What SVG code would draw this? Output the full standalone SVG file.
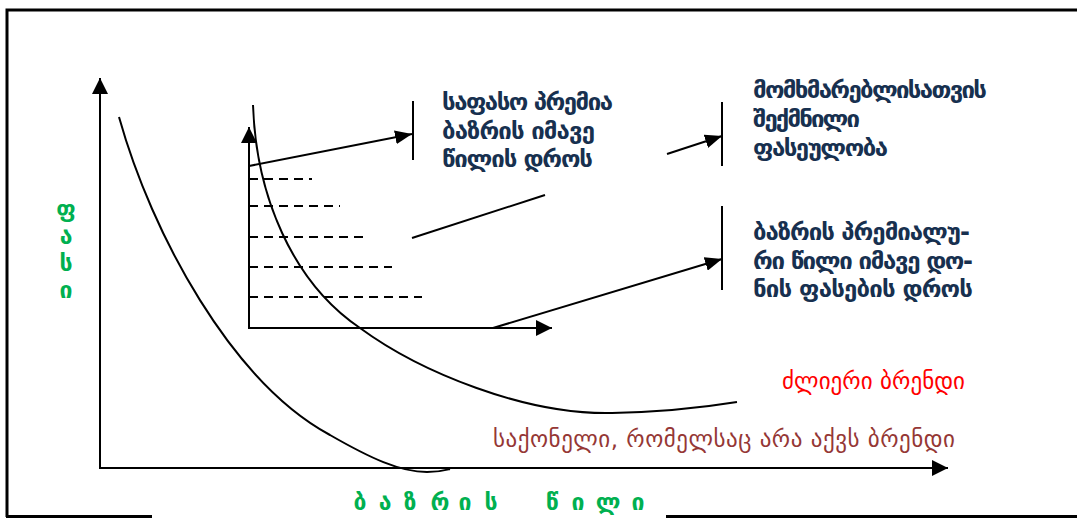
<svg xmlns="http://www.w3.org/2000/svg" width="1077" height="519" viewBox="0 0 1077 519">
<style>
.frame{stroke:#000;stroke-width:3;fill:none}
.ax{stroke:#000;stroke-width:2;fill:none}
.crv{stroke:#000;stroke-width:2;fill:none}
.dash{stroke:#000;stroke-width:2;stroke-dasharray:9,6;fill:none}
.ptr{stroke:#000;stroke-width:2;fill:none}
.bar{stroke:#000;stroke-width:2}
.navy{font-family:"DejaVu Sans",sans-serif;font-weight:bold;font-size:24px;fill:#17304f}
.green{font-family:"DejaVu Sans",sans-serif;font-weight:bold;font-size:23px;fill:#00b050}
.red{font-family:"DejaVu Sans",sans-serif;font-size:23px;fill:#ff0000}
.brown{font-family:"DejaVu Sans",sans-serif;font-size:23px;fill:#953735}
</style>
<defs>
<marker id="ah" markerUnits="userSpaceOnUse" markerWidth="18" markerHeight="16" refX="16" refY="8" orient="auto">
<path d="M0,0 L16,8 L0,16 z" fill="#000"/>
</marker>
<marker id="pa" markerUnits="userSpaceOnUse" markerWidth="18" markerHeight="14" refX="17" refY="7" orient="auto">
<path d="M0,0 L17,7 L0,14 z" fill="#000"/>
</marker>
</defs>
<rect width="1077" height="519" fill="#fff"/>
<g id="frame">
<path class="frame" d="M7,517 V10 H1077"/>
<path class="frame" d="M6,516.5 H152 M666,516.5 H1077"/>
</g>
<g id="main-axes">
<line class="ax" x1="100" y1="469" x2="100" y2="78" marker-end="url(#ah)"/>
<line class="ax" x1="100" y1="468" x2="948" y2="468" marker-end="url(#ah)"/>
</g>
<g id="curve-no-brand">
<path class="crv" d="M119,117 C152,235 232,382 330,435 C370,458 400,472 427,472 C440,472 446,470 450,469"/>
</g>
<g id="curve-strong-brand">
<path class="crv" d="M253,105 C256,195 292,282 360,328 C420,372 525,415 612,413 C662,412 700,408 737,402"/>
</g>
<g id="inner-axes">
<line class="ax" x1="249" y1="329" x2="249" y2="127" marker-end="url(#ah)"/>
<line class="ax" x1="248" y1="328" x2="552" y2="328" marker-end="url(#ah)"/>
<line class="dash" x1="249" y1="179" x2="312" y2="179"/>
<line class="dash" x1="249" y1="206" x2="340" y2="206"/>
<line class="dash" x1="249" y1="237" x2="365" y2="237"/>
<line class="dash" x1="249" y1="267" x2="392" y2="267"/>
<line class="dash" x1="249" y1="297" x2="422" y2="297"/>
</g>
<g id="connectors">
<line class="ptr" x1="249" y1="166" x2="412" y2="134" marker-end="url(#pa)"/>
<line class="ptr" x1="412" y1="238" x2="545" y2="195"/>
<line class="ptr" x1="667" y1="154" x2="722" y2="136" marker-end="url(#pa)"/>
<line class="ptr" x1="493" y1="328" x2="722" y2="259" marker-end="url(#pa)"/>
<line class="bar" x1="413" y1="101" x2="413" y2="160"/>
<line class="bar" x1="722" y1="102" x2="722" y2="166"/>
<line class="bar" x1="722" y1="206" x2="722" y2="290"/>
</g>
<g id="label-premium-price">
<text class="navy" x="442" y="110" textLength="171" lengthAdjust="spacing">საფასო პრემია</text>
<text class="navy" x="442" y="139" textLength="153" lengthAdjust="spacing">ბაზრის იმავე</text>
<text class="navy" x="442" y="167" textLength="151" lengthAdjust="spacing">წილის დროს</text>
</g>
<g id="label-consumer-value">
<text class="navy" x="753" y="98" textLength="234" lengthAdjust="spacing">მომხმარებლისათვის</text>
<text class="navy" x="753" y="127" textLength="107" lengthAdjust="spacing">შექმნილი</text>
<text class="navy" x="753" y="156" textLength="135" lengthAdjust="spacing">ფასეულობა</text>
</g>
<g id="label-premium-share">
<text class="navy" x="753" y="240" textLength="217" lengthAdjust="spacing">ბაზრის პრემიალუ-</text>
<text class="navy" x="753" y="269" textLength="220" lengthAdjust="spacing">რი წილი იმავე დო-</text>
<text class="navy" x="753" y="297" textLength="220" lengthAdjust="spacing">ნის ფასების დროს</text>
</g>
<g id="label-strong-brand">
<text class="red" x="782" y="389" textLength="183" lengthAdjust="spacing">ძლიერი ბრენდი</text>
</g>
<g id="label-no-brand">
<text class="brown" x="493" y="447" textLength="462" lengthAdjust="spacing">საქონელი, რომელსაც არა აქვს ბრენდი</text>
</g>
<g id="label-y-axis">
<text class="green" x="66" y="217" text-anchor="middle">ფ</text>
<text class="green" x="66" y="244" text-anchor="middle">ა</text>
<text class="green" x="66" y="271" text-anchor="middle">ს</text>
<text class="green" x="66" y="298" text-anchor="middle">ი</text>
</g>
<g id="label-x-axis">
<text class="green" y="510" text-anchor="middle"><tspan x="360">ბ</tspan><tspan x="385">ა</tspan><tspan x="410">ზ</tspan><tspan x="440">რ</tspan><tspan x="465">ი</tspan><tspan x="491">ს</tspan><tspan x="552">წ</tspan><tspan x="578">ი</tspan><tspan x="608">ლ</tspan><tspan x="638">ი</tspan></text>
</g>
</svg>
